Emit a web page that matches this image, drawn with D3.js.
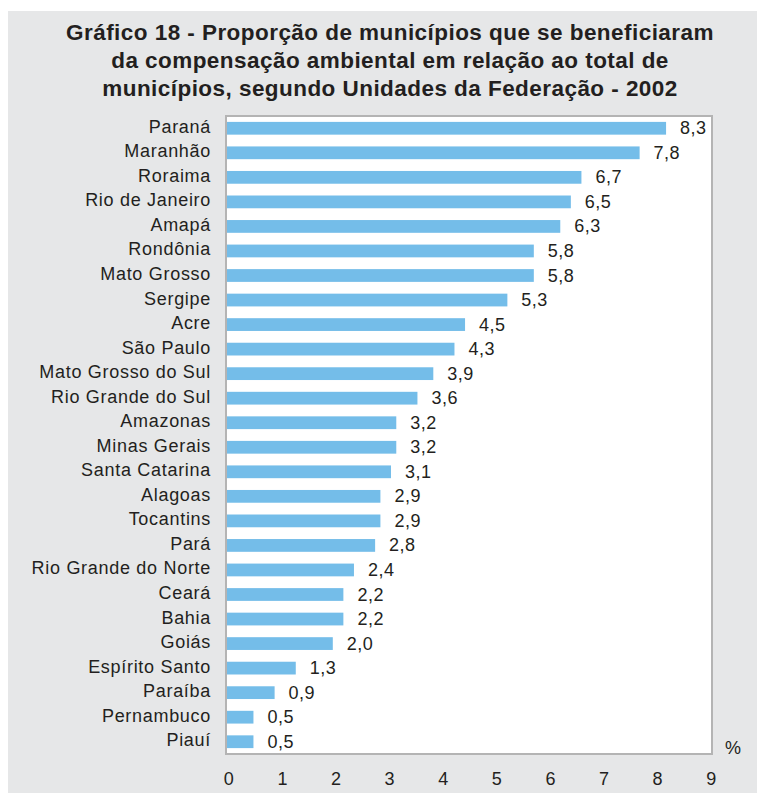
<!DOCTYPE html>
<html><head><meta charset="utf-8">
<script src="https://cdn.jsdelivr.net/npm/d3@7"></script>
<style>
html,body{margin:0;padding:0;background:#fff;}
svg{display:block;}
text{font-family:"Liberation Sans",Arial,sans-serif;fill:#231f20;}
</style></head>
<body>
<svg id="chart" width="757" height="793"></svg>
<script>
const titleLines = [
  "Gráfico 18 - Proporção de municípios que se beneficiaram",
  "da compensação ambiental em relação ao total de",
  "municípios, segundo Unidades da Federação - 2002"
];
const categories = ["Paraná","Maranhão","Roraima","Rio de Janeiro","Amapá","Rondônia","Mato Grosso","Sergipe","Acre","São Paulo","Mato Grosso do Sul","Rio Grande do Sul","Amazonas","Minas Gerais","Santa Catarina","Alagoas","Tocantins","Pará","Rio Grande do Norte","Ceará","Bahia","Goiás","Espírito Santo","Paraíba","Pernambuco","Piauí"];
const values = [8.3,7.8,6.7,6.5,6.3,5.8,5.8,5.3,4.5,4.3,3.9,3.6,3.2,3.2,3.1,2.9,2.9,2.8,2.4,2.2,2.2,2.0,1.3,0.9,0.5,0.5];
const tickValues = [0,1,2,3,4,5,6,7,8,9];
const unitLabel = "%";

const svg = d3.select("#chart");
const W = 757, H = 793;
const plot = {left: 226, right: 712, top: 116, bottom: 754};

// background panel
svg.append("rect").attr("x", 8).attr("y", 11).attr("width", W - 8).attr("height", H - 11).attr("fill", "#e6e7e8");

// title
svg.append("g").selectAll("text").data(titleLines).join("text")
  .attr("x", 390).attr("y", (d, i) => 40 + i * 28)
  .attr("text-anchor", "middle")
  .style("font-weight", "bold").style("font-size", "22.5px").style("letter-spacing", "0.45px")
  .text(d => d);

// plot area
svg.append("rect").attr("x", plot.left).attr("y", plot.top)
  .attr("width", plot.right - plot.left).attr("height", plot.bottom - plot.top)
  .attr("fill", "#fff").attr("stroke", "#b4b4b4").attr("stroke-width", 2);

const y = d3.scaleBand().domain(categories).range([plot.top, plot.bottom]).paddingInner(0.48).paddingOuter(0.24);
const xAxisScale = d3.scaleLinear().domain([0, 9]).range([228.3, 710.7]);
const xBar = d3.scaleLinear().domain([0, 9]).range([227, 227 + 9 * 52.9]);
const fmt = v => d3.format(".1f")(v).replace(".", ",");

const rows = categories.map((c, i) => ({c, v: values[i]}));

svg.append("g").selectAll("rect").data(rows).join("rect")
  .attr("x", xBar(0)).attr("y", d => y(d.c))
  .attr("width", d => xBar(d.v) - xBar(0)).attr("height", y.bandwidth())
  .attr("fill", "#74bde9");

svg.append("g").selectAll("text").data(rows).join("text")
  .attr("x", 211).attr("y", d => y(d.c) + y.bandwidth() / 2 + 4.5)
  .attr("text-anchor", "end").style("font-size", "18px").style("letter-spacing", "0.7px")
  .text(d => d.c);

svg.append("g").selectAll("text").data(rows).join("text")
  .attr("x", d => xBar(d.v) + 14).attr("y", d => y(d.c) + y.bandwidth() / 2 + 6)
  .style("font-size", "18px").style("letter-spacing", "0.5px")
  .text(d => fmt(d.v));

// x axis
const axis = d3.axisBottom(xAxisScale).tickValues(tickValues).tickSize(0).tickPadding(0).tickFormat(d3.format("d"));
const gx = svg.append("g").attr("transform", "translate(0,772)").call(axis);
gx.select(".domain").remove();
gx.selectAll("text").attr("dy", null).attr("y", 13).attr("fill", "#231f20")
  .style("font-size", "18px").style("font-family", "'Liberation Sans', Arial, sans-serif");

svg.append("text").attr("x", 733).attr("y", 754).attr("text-anchor", "middle")
  .style("font-size", "18px").text(unitLabel);
</script>
</body></html>
